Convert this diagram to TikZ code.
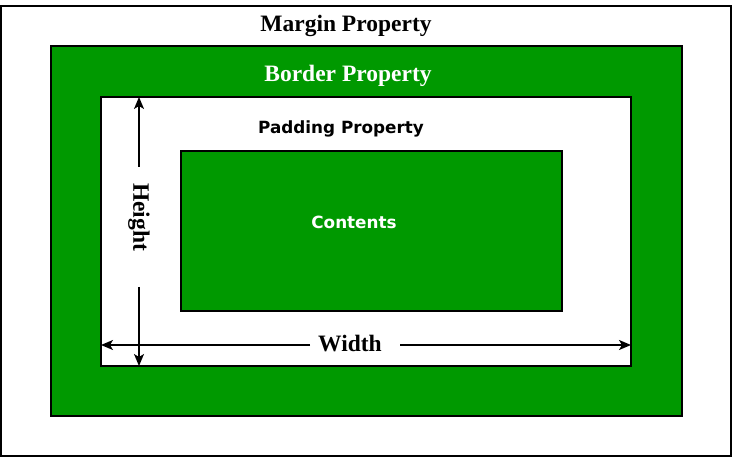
\documentclass[tikz,border=0pt]{standalone}
\usepackage{fontspec}
\setmainfont{Liberation Serif}
\newfontfamily\labelfont{DejaVu Sans}
\usepackage{tikz}
\usetikzlibrary{arrows,arrows.meta,shapes,positioning}
\usepackage{xcolor}
\definecolor{boxgreen}{RGB}{0,153,0}

\tikzset{
	boxline/.style={draw=black, line width=1.2pt},
	greenbox/.style={boxline, fill=boxgreen},
	whitebox/.style={boxline, fill=white},
	titletext/.style={font=\fontsize{23.5}{26}\selectfont\bfseries, inner sep=0pt},
	sanstext/.style={font=\labelfont\bfseries\fontsize{16.8}{20}\selectfont, inner sep=0pt},
	dimline/.style={line width=1.5pt, -{Stealth[length=12pt, width=10pt, inset=3pt]}},
}

\begin{document}
\begin{tikzpicture}[x=1pt, y=1pt] % {{{
		\useasboundingbox (0,0) rectangle (733,458);
		% Cajas   {{{
		\draw[whitebox] (1,2) rectangle (731,452);
		\draw[greenbox] (51,42) rectangle (682,412);
		\draw[whitebox] (101,92) rectangle (631,361);
		\draw[greenbox] (181,147) rectangle (562,307);
		% }}}
		% Textos   {{{
		\node[titletext] (margin) at (346,432) {Margin Property} ;
		\node[titletext, text=white] (border) at (348,382) {Border Property} ;
		\node[sanstext] (padding) at (341,329) {Padding Property} ;
		\node[sanstext, text=white] (contents) at (354,236) {Contents} ;
		% }}}
		% Height {{{
		\coordinate (htop) at (139,361) ;
		\coordinate (hbot) at (139,92) ;
		\node[titletext, rotate=-90] (hgt) at (139,241) {Height} ;
		\coordinate (hup) at (139,291) ;
		\coordinate (hdown) at (139,171) ;
		\draw[dimline] (hup) -- (htop) ;
		\draw[dimline] (hdown) -- (hbot) ;
		% }}}
		% Width {{{
		\coordinate (wleft) at (101,113) ;
		\coordinate (wright) at (631,113) ;
		\node[titletext] (wdt) at (350,114) {Width} ;
		\coordinate (wl) at (310,113) ;
		\coordinate (wr) at (400,113) ;
		\draw[dimline] (wl) -- (wleft) ;
		\draw[dimline] (wr) -- (wright) ;
		% }}}
\end{tikzpicture} % }}}
\end{document}
